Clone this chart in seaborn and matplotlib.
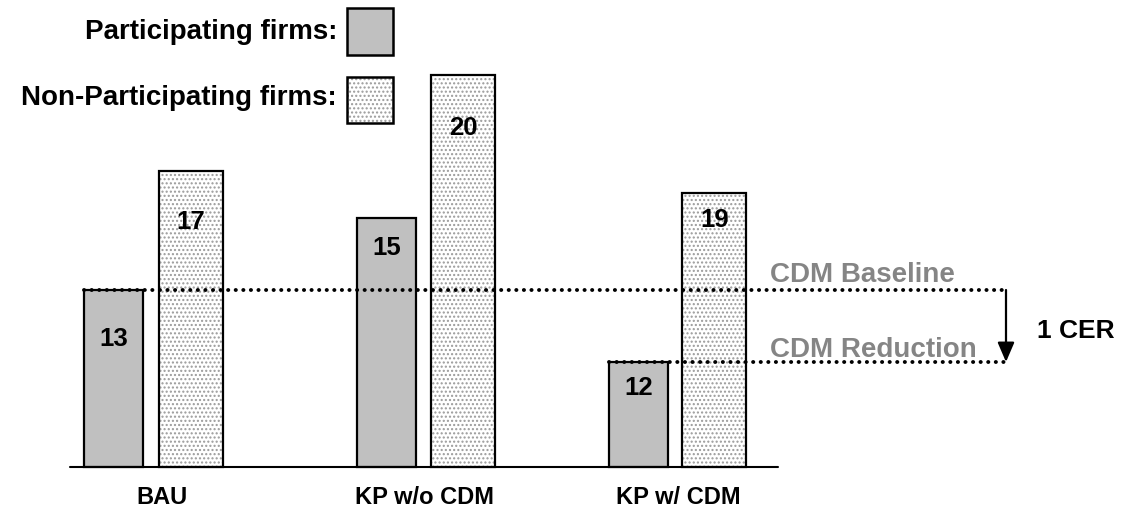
import numpy as np
import pandas as pd
import matplotlib
matplotlib.use('Agg')
import matplotlib.pyplot as plt
from matplotlib.patches import Rectangle
import seaborn as sns

# Chart values (bar heights as drawn; labels as printed on the bars)
scenarios = ['BAU', 'KP w/o CDM', 'KP w/ CDM']
part_height = [177, 249, 105]
nonpart_height = [296, 392, 274]
part_label = ['13', '15', '12']
nonpart_label = ['17', '20', '19']

# Layout (pixel-like units on a 1122 x 522 canvas)
part_x = [114, 386.5, 638.5]
nonpart_x = [191, 463.5, 714.5]
scen_x = [162, 425, 678]
part_off = [49, 30, 26]
nonpart_off = [51, 53, 27]

sns.set_style('white')
plt.rcParams['font.family'] = ['Liberation Sans', 'DejaVu Sans']
plt.rcParams['font.weight'] = 'bold'
plt.rcParams['text.color'] = 'black'
plt.rcParams['hatch.linewidth'] = 1.0

fig = plt.figure(figsize=(11.22, 5.22), dpi=100)
ax = fig.add_axes([0, 0, 1, 1])

df_p = pd.DataFrame({'x': part_x, 'h': part_height})
df_n = pd.DataFrame({'x': nonpart_x, 'h': nonpart_height})

sns.barplot(data=df_p, x='x', y='h', native_scale=True, width=59 / 252,
            color='#c0c0c0', edgecolor='black', linewidth=1.6,
            errorbar=None, saturation=1, ax=ax)
n_before = len(ax.patches)
sns.barplot(data=df_n, x='x', y='h', native_scale=True, width=64 / 251,
            color='white', edgecolor='#9a9a9a', linewidth=0, hatch='....',
            errorbar=None, saturation=1, ax=ax)
for p in list(ax.patches[n_before:]):
    ax.add_patch(Rectangle(p.get_xy(), p.get_width(), p.get_height(),
                           fill=False, edgecolor='black', linewidth=1.6, zorder=3))

ax.set_xlim(0, 1122)
ax.set_ylim(-55, 467)
ax.axis('off')

# ground line
ax.plot([70, 778], [0, 0], color='black', lw=1.5, zorder=4)

# bar value labels
for x, h, t, o in zip(part_x, part_height, part_label, part_off):
    ax.text(x, h - o, t, ha='center', va='center', fontsize=18.5, zorder=5)
for x, h, t, o in zip(nonpart_x, nonpart_height, nonpart_label, nonpart_off):
    ax.text(x, h - o, t, ha='center', va='center', fontsize=18.5, zorder=5)

# scenario labels
for x, t in zip(scen_x, scenarios):
    ax.text(x, -31, t, ha='center', va='center', fontsize=17)

# CDM baseline / reduction dotted lines
base_y = part_height[0]
red_y = part_height[2]
dot = dict(color='black', lw=2.8, linestyle=(0, (0.05, 1.9)),
           dash_capstyle='round', zorder=6)
ax.plot([part_x[0] - 30, 1006], [base_y, base_y], **dot)
ax.plot([part_x[2] - 29, 1006], [red_y, red_y], **dot)
ax.annotate('', xy=(1006, red_y), xytext=(1006, base_y),
            arrowprops=dict(arrowstyle='-|>,head_length=0.7,head_width=0.3',
                            color='black', lw=1.6,
                            mutation_scale=17, shrinkA=0, shrinkB=0))
ax.text(770, base_y + 15, 'CDM Baseline', color='#858585', fontsize=20,
        ha='left', va='center')
ax.text(770, red_y + 12, 'CDM Reduction', color='#858585', fontsize=20,
        ha='left', va='center')
ax.text(1076, 136, '1 CER', fontsize=19, ha='center', va='center')

# legend
ax.text(337, 435, 'Participating firms:', fontsize=20, ha='right', va='center')
ax.text(337, 369, 'Non-Participating firms:', fontsize=20, ha='right', va='center')
ax.add_patch(Rectangle((347, 412), 46, 47, facecolor='#c0c0c0',
                       edgecolor='black', lw=1.8))
ax.add_patch(Rectangle((347, 344), 46, 46, facecolor='white',
                       edgecolor='#9a9a9a', lw=0, hatch='....'))
ax.add_patch(Rectangle((347, 344), 46, 46, fill=False,
                       edgecolor='black', lw=1.8))

fig.savefig('out.png', dpi=100)
